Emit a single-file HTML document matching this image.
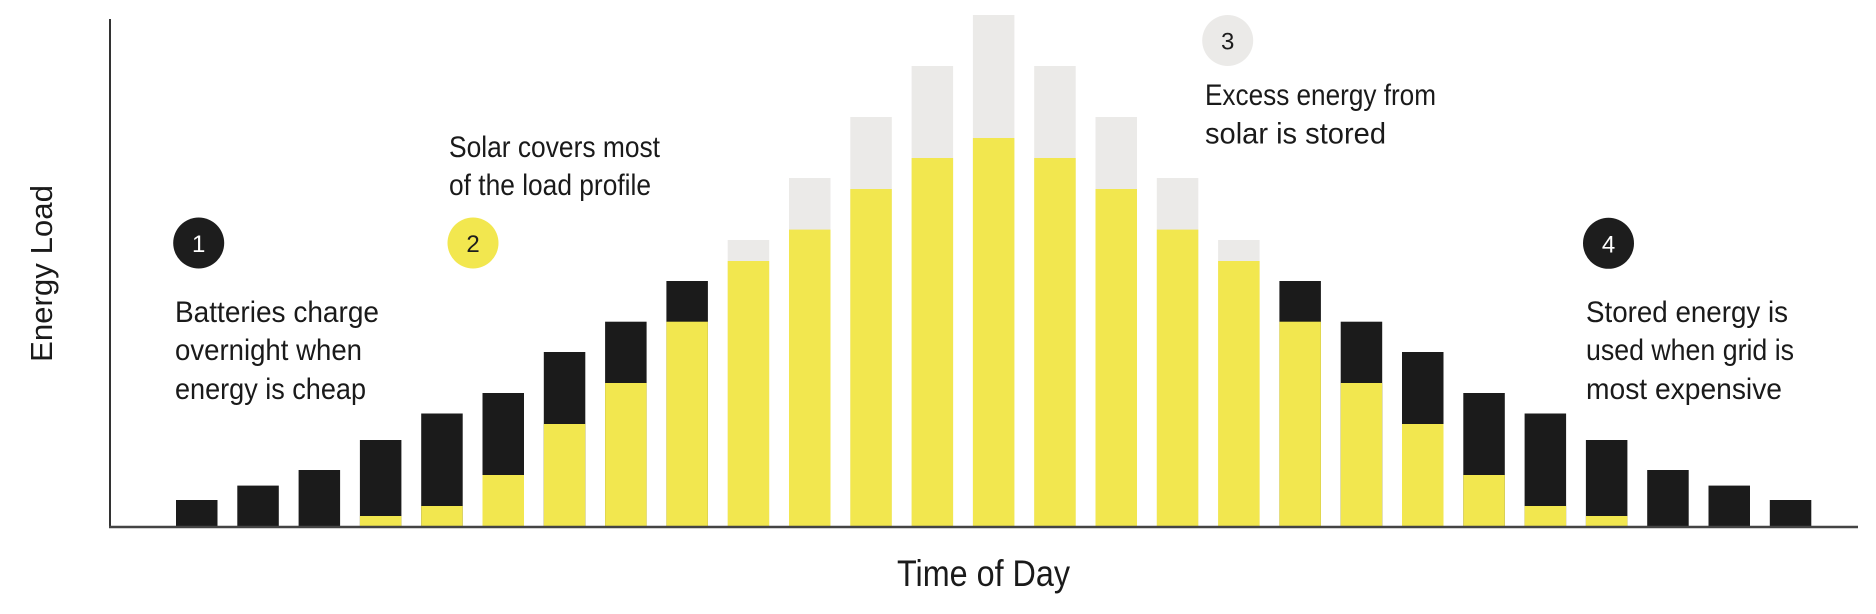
<!DOCTYPE html>
<html><head><meta charset="utf-8"><style>html,body{margin:0;padding:0;background:#fff}svg{display:block}</style></head>
<body>
<svg width="1876" height="614" viewBox="0 0 1876 614" xmlns="http://www.w3.org/2000/svg" font-family="'Liberation Sans', sans-serif">
<g id="bars"></g>
<line x1="110" y1="19" x2="110" y2="528" stroke="#333" stroke-width="2"/>
<line x1="109" y1="527" x2="1858" y2="527" stroke="#444" stroke-width="2.5"/>
<circle cx="198.7" cy="243" r="25.5" fill="#1d1d1d"/>
<text x="198.7" y="252" font-size="24" fill="#fff" text-anchor="middle">1</text>
<circle cx="473" cy="243" r="25.5" fill="#f2e74f"/>
<text x="473" y="252" font-size="24" fill="#1d1d1d" text-anchor="middle">2</text>
<circle cx="1227.7" cy="40.5" r="25.5" fill="#ebeae8"/>
<text x="1227.7" y="49.5" font-size="24" fill="#1d1d1d" text-anchor="middle">3</text>
<circle cx="1608.5" cy="243.3" r="25.5" fill="#1d1d1d"/>
<text x="1608.5" y="252.3" font-size="24" fill="#fff" text-anchor="middle">4</text>
<g font-size="30" fill="#1a1a1a">
<text x="175" y="322" textLength="204" lengthAdjust="spacingAndGlyphs">Batteries charge</text>
<text x="175" y="360" textLength="187" lengthAdjust="spacingAndGlyphs">overnight when</text>
<text x="175" y="399" textLength="191" lengthAdjust="spacingAndGlyphs">energy is cheap</text>
<text x="449" y="157" textLength="211" lengthAdjust="spacingAndGlyphs">Solar covers most</text>
<text x="449" y="195" textLength="202" lengthAdjust="spacingAndGlyphs">of the load profile</text>
<text x="1205" y="105" textLength="231" lengthAdjust="spacingAndGlyphs">Excess energy from</text>
<text x="1205" y="143.5" textLength="181" lengthAdjust="spacingAndGlyphs">solar is stored</text>
<text x="1586" y="322" textLength="202" lengthAdjust="spacingAndGlyphs">Stored energy is</text>
<text x="1586" y="360" textLength="208" lengthAdjust="spacingAndGlyphs">used when grid is</text>
<text x="1586" y="399" textLength="196" lengthAdjust="spacingAndGlyphs">most expensive</text>
</g>
<text x="897" y="586" font-size="37" fill="#1a1a1a" textLength="173" lengthAdjust="spacingAndGlyphs">Time of Day</text>
<text transform="translate(52,362) rotate(-90)" font-size="31" fill="#1a1a1a" textLength="177" lengthAdjust="spacingAndGlyphs">Energy Load</text>
</svg>
<script>
var half=[[500,null,null],[485.6,null,null],[470,null,null],[440,516,null],[413.5,506,null],[393,475,null],[352,424,null],[321.7,383,null],[281,321.7,null],[null,261,240],[null,229.6,178],[null,189,117],[null,158,66],[null,138,15]];
var data=half.concat(half.slice(0,13).reverse());
var g=document.getElementById('bars'),s='',B=527;
data.forEach(function(d,i){var x=176+i*61.3,w=41.5;
 if(d[2]!==null){s+='<rect x="'+x+'" y="'+d[2]+'" width="'+w+'" height="'+(B-d[2])+'" fill="#ebeae8"/>';}
 if(d[0]!==null){s+='<rect x="'+x+'" y="'+d[0]+'" width="'+w+'" height="'+(B-d[0])+'" fill="#1b1b1b"/>';}
 if(d[1]!==null){s+='<rect x="'+x+'" y="'+d[1]+'" width="'+w+'" height="'+(B-d[1])+'" fill="#f2e74f"/>';}
});
g.innerHTML=s;
</script>
</body></html>
